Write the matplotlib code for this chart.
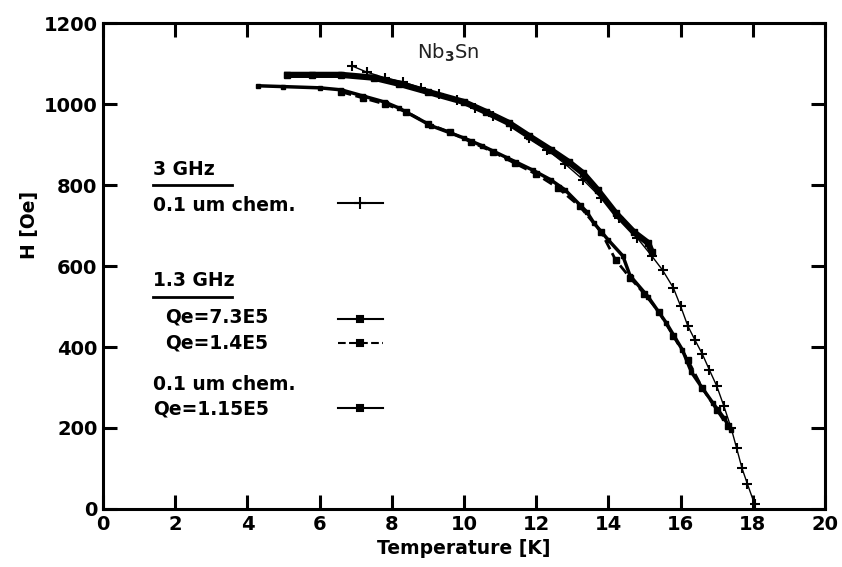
import matplotlib.pyplot as plt
from matplotlib.lines import Line2D

plt.rcParams['font.family'] = ['DejaVu Sans']
plt.rcParams['font.weight'] = 'bold'
plt.rcParams['axes.labelweight'] = 'bold'

# 3 GHz, 0.1 um chem.
t_3ghz = [6.9, 7.3, 7.8, 8.3, 8.8, 9.3, 9.8, 10.3, 10.8, 11.3, 11.8, 12.3, 12.8,
          13.3, 13.8, 14.3, 14.8, 15.2, 15.5, 15.8, 16.0, 16.2, 16.4, 16.6, 16.8,
          17.0, 17.2, 17.4, 17.55, 17.7, 17.85, 18.05]
h_3ghz = [1094, 1079, 1065, 1055, 1040, 1025, 1010, 990, 971, 946, 916, 887, 852,
          813, 768, 719, 669, 625, 590, 546, 501, 452, 417, 383, 343, 304, 254,
          200, 151, 101, 62, 12]

# 1.3 GHz, Qe=7.3E5
t_73 = [4.3, 5.0, 6.0, 6.6, 7.2, 7.8, 8.2, 9.1, 10.0, 10.5, 11.2, 11.9, 12.4, 12.8,
        13.4, 13.6, 14.0, 14.4, 14.6, 15.1, 15.6, 16.05, 16.3, 16.6, 16.9, 17.2, 17.4]
h_73 = [1045, 1043, 1040, 1035, 1020, 1005, 990, 946, 916, 897, 867, 837, 813, 788,
        734, 706, 664, 625, 576, 524, 460, 393, 338, 299, 261, 225, 195]

# 1.3 GHz, Qe=1.4E5
t_14 = [6.6, 7.2, 7.8, 8.4, 9.0, 9.6, 10.2, 10.8, 11.4, 12.0, 12.6, 13.2, 13.8,
        14.2, 14.6, 15.0, 15.4, 15.8, 16.2, 16.6, 17.0, 17.3]
h_14 = [1030, 1015, 1000, 981, 951, 931, 906, 882, 854, 827, 793, 748, 684,
        615, 571, 531, 487, 427, 368, 299, 245, 205]

# 0.1 um chem., Qe=1.15E5
t_115 = [5.1, 5.8, 6.6, 7.5, 8.2, 9.0, 10.0, 10.6, 11.25, 11.8, 12.4, 12.9, 13.3,
         13.7, 14.2, 14.7, 15.1, 15.2]
h_115 = [1072, 1072, 1072, 1065, 1050, 1030, 1005, 981, 953, 921, 887, 857, 829,
         788, 731, 684, 657, 635]

fig = plt.figure(figsize=(8.42, 5.67), dpi=100)
ax = fig.add_axes([0.1223, 0.1023, 0.8575, 0.8571])

ax.plot(t_115, h_115, '-s', color='black', lw=4.5, ms=5)
ax.plot(t_73, h_73, '-s', color='black', lw=2.5, ms=3.5)
ax.plot(t_14, h_14, '--s', color='black', lw=2, ms=4)
ax.plot(t_3ghz, h_3ghz, '-+', color='black', lw=1, ms=7, mew=1.5)

ax.set_xlim(0, 20)
ax.set_ylim(0, 1200)
ax.set_xticks(range(0, 21, 2))
ax.set_yticks(range(0, 1201, 200))
ax.tick_params(direction='in', length=10, width=2.2, top=True, right=True,
               labelsize=14, pad=4)
for s in ax.spines.values():
    s.set_linewidth(2.2)

ax.set_xlabel('Temperature [K]', fontsize=13.5, labelpad=4)
ax.set_ylabel('H [Oe]', fontsize=13.5)
ax.yaxis.set_label_coords(-0.088, 0.584)

ax.text(0.478, 0.926, 'Nb$_3$Sn', transform=ax.transAxes, ha='center',
        va='baseline', fontsize=14, fontweight='normal', color='#222222')

# legend drawn by hand
fs = 13.5
tx = 0.069
ax.text(tx, 0.687, '3 GHz', transform=ax.transAxes, va='baseline', fontsize=fs)
ax.add_line(Line2D([tx, 0.179], [0.667, 0.667], transform=ax.transAxes,
                   color='black', lw=2))
ax.text(tx, 0.613, '0.1 um chem.', transform=ax.transAxes, va='baseline', fontsize=fs)
ax.text(tx, 0.458, '1.3 GHz', transform=ax.transAxes, va='baseline', fontsize=fs)
ax.add_line(Line2D([tx, 0.179], [0.437, 0.437], transform=ax.transAxes,
                   color='black', lw=2))
ax.text(0.086, 0.383, 'Qe=7.3E5', transform=ax.transAxes, va='baseline', fontsize=fs)
ax.text(0.086, 0.331, 'Qe=1.4E5', transform=ax.transAxes, va='baseline', fontsize=fs)
ax.text(tx, 0.245, '0.1 um chem.', transform=ax.transAxes, va='baseline', fontsize=fs)
ax.text(tx, 0.195, 'Qe=1.15E5', transform=ax.transAxes, va='baseline', fontsize=fs)

samples = [(0.630, '-', '+', 8), (0.390, '-', 's', 4), (0.341, '--', 's', 4),
           (0.207, '-', 's', 5)]
for y, ls, mk, ms in samples:
    ax.add_line(Line2D([0.325, 0.356, 0.388], [y, y, y], transform=ax.transAxes,
                       color='black', lw=1.5, ls=ls, marker=mk, ms=ms,
                       markevery=[1], mew=1.5))

fig.savefig('out.png', dpi=100)
